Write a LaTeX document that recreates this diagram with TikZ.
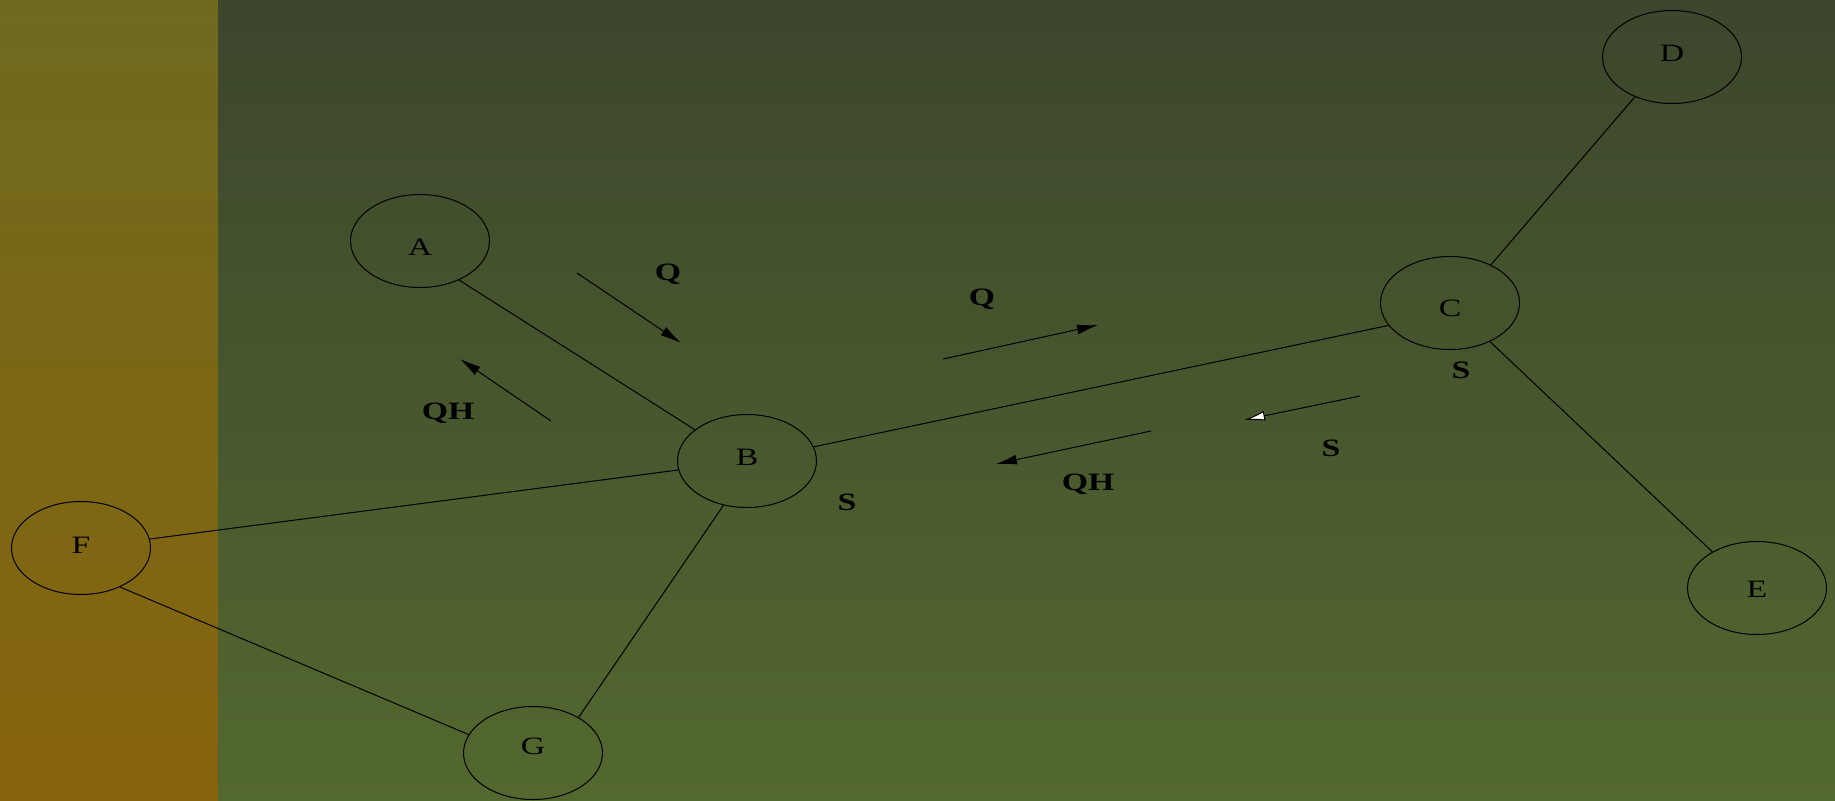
\documentclass[tikz,border=0pt]{standalone}
\usepackage{fontspec}
\setmainfont{Liberation Serif}[FakeStretch=1.35]
\usetikzlibrary{arrows.meta,shapes.geometric}
\definecolor{fasiesus}{HTML}{706A1F}
\definecolor{fasiejos}{HTML}{87640C}
\definecolor{fondsus}{HTML}{3C462C}
\definecolor{fondjos}{HTML}{53682F}
\tikzset{
  nod/.style         = {draw, ellipse, minimum width=139pt, minimum height=93pt,
                        inner sep=0pt, line width=1pt, text height=16.5pt, text depth=0pt,
                        font=\fontsize{25}{25}\selectfont},
  muchie/.style      = {line width=1pt},
  eticheta/.style    = {font=\fontsize{25}{25}\selectfont\bfseries, inner sep=0pt},
  sageata/.style     = {line width=1pt, -{Latex[length=21pt,width=10pt]}},
  sageataalba/.style = {line width=1pt, -{Latex[length=21pt,width=10pt,fill=white]}}
}
\begin{document}
\begin{tikzpicture}[x=1pt, y=-1pt]
        \useasboundingbox (0,0) rectangle (1835,800);
        \shade[top color=fasiesus, bottom color=fasiejos] (0,0) rectangle (218,800);
        \shade[top color=fondsus, bottom color=fondjos] (218,0) rectangle (1835,800);

        \node[nod, text height=29pt] (a) at (420,241) {A};
        \node[nod, text height=9pt] (b) at (747,461) {B};
        \node[nod, text height=26.5pt] (c) at (1450,303) {C};
        \node[nod, text height=10pt] (d) at (1672,57) {D};
        \node[nod, text height=18pt] (e) at (1757,588) {E};
        \node[nod, text height=10pt] (f) at (81,548) {F};
        \node[nod, text height=3.5pt] (g) at (533,753) {G};

        \draw[muchie] (a.-45) -- (b.149);
        \draw[muchie] (b.12) -- (c.200);
        \draw[muchie] (c.43) -- (d.227);
        \draw[muchie] (c.316) -- (e.141);
        \draw[muchie] (b) -- (f);
        \draw[muchie] (b.242) -- (g.38);
        \draw[muchie] (f.-45) -- (g.164);

        % mesajele de pe muchia A-B
        \coordinate (q1s) at (577,273);  \coordinate (q1f) at (681,343);
        \coordinate (qh1s) at (551,421); \coordinate (qh1f) at (460,359);
        \draw[sageata] (q1s) -- (q1f);
        \draw[sageata] (qh1s) -- (qh1f);
        \node[eticheta] (lq1) at (668,274) {Q};
        \node[eticheta] (lqh1) at (448,413) {QH};

        % mesajele de pe muchia B-C
        \coordinate (q2s) at (943,359);  \coordinate (q2f) at (1098,325);
        \coordinate (qh2s) at (1151,431); \coordinate (qh2f) at (996,464);
        \coordinate (ss) at (1360,396);  \coordinate (sf) at (1244,420);
        \draw[sageata] (q2s) -- (q2f);
        \draw[sageata] (qh2s) -- (qh2f);
        \draw[sageataalba] (ss) -- (sf);
        \node[eticheta] (lq2) at (982,299) {Q};
        \node[eticheta] (lqh2) at (1088,484) {QH};
        \node[eticheta] (ls) at (1331,448) {S};

        \node[eticheta] (sb) at (847,502) {S};
        \node[eticheta] (sc) at (1461,370) {S};
    \end{tikzpicture}
\end{document}
